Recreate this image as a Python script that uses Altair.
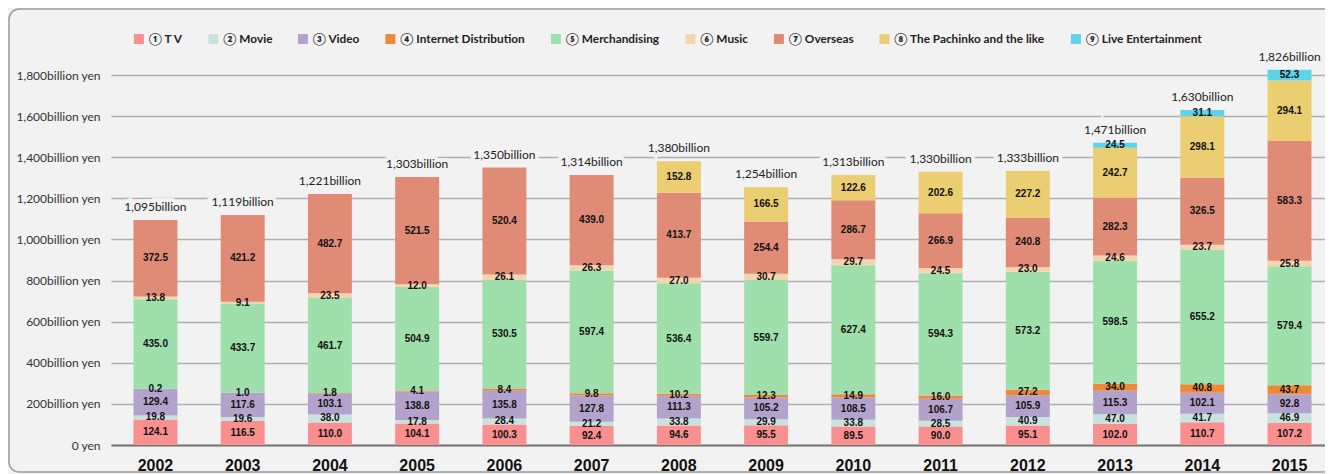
import altair as alt
import pandas as pd

years = [str(y) for y in range(2002, 2016)]
series = ["① T V", "② Movie", "③ Video", "④ Internet Distribution", "⑤ Merchandising",
          "⑥ Music", "⑦ Overseas", "⑧ The Pachinko and the like", "⑨ Live Entertainment"]
colors = ["#f98f8f", "#c8e2de", "#b3a3cc", "#ec8a3a", "#9fdfac",
          "#f5d4b0", "#e08b76", "#ebcd72", "#5fd3e8"]

tv = [124.1, 116.5, 110.0, 104.1, 100.3, 92.4, 94.6, 95.5, 89.5, 90.0, 95.1, 102.0, 110.7, 107.2]
movie = [19.8, 19.6, 38.0, 17.8, 28.4, 21.2, 33.8, 29.9, 33.8, 28.5, 40.9, 47.0, 41.7, 46.9]
video = [129.4, 117.6, 103.1, 138.8, 135.8, 127.8, 111.3, 105.2, 108.5, 106.7, 105.9, 115.3, 102.1, 92.8]
internet = [0.2, 1.0, 1.8, 4.1, 8.4, 9.8, 10.2, 12.3, 14.9, 16.0, 27.2, 34.0, 40.8, 43.7]
merch = [435.0, 433.7, 461.7, 504.9, 530.5, 597.4, 536.4, 559.7, 627.4, 594.3, 573.2, 598.5, 655.2, 579.4]
music = [13.8, 9.1, 23.5, 12.0, 26.1, 26.3, 27.0, 30.7, 29.7, 24.5, 23.0, 24.6, 23.7, 25.8]
overseas = [372.5, 421.2, 482.7, 521.5, 520.4, 439.0, 413.7, 254.4, 286.7, 266.9, 240.8, 282.3, 326.5, 583.3]
pachinko = [None, None, None, None, None, None, 152.8, 166.5, 122.6, 202.6, 227.2, 242.7, 298.1, 294.1]
live = [None, None, None, None, None, None, None, None, None, None, None, 24.5, 31.1, 52.3]

totals = [1095, 1119, 1221, 1303, 1350, 1314, 1380, 1254, 1313, 1330, 1333, 1471, 1630, 1826]
total_labels = ["1,095billion", "1,119billion", "1,221billion", "1,303billion", "1,350billion",
                "1,314billion", "1,380billion", "1,254billion", "1,313billion", "1,330billion",
                "1,333billion", "1,471billion", "1,630billion", "1,826billion"]

values = [tv, movie, video, internet, merch, music, overseas, pachinko, live]
rows = []
for si, (name, vals) in enumerate(zip(series, values)):
    for yi, v in enumerate(vals):
        if v is None:
            continue
        rows.append({"year": years[yi], "series": name, "idx": si, "value": v, "label": f"{v:.1f}"})
df = pd.DataFrame(rows)
tot = pd.DataFrame({"year": years, "total": totals, "label": total_labels})
frame_df = pd.DataFrame({"k": [0]})

BG = "#f2f2f2"
W, H = 1214, 370

xenc = alt.X("year:N", sort=years,
             scale=alt.Scale(paddingInner=0.496, paddingOuter=0.206, align=0.625),
             axis=alt.Axis(title=None, labelAngle=0, labelFont="Liberation Sans", labelFontSize=16,
                           labelFontWeight="bold", labelColor="#111", ticks=False,
                           domainColor="#777777", domainWidth=2, labelPadding=12))

yscale = alt.Scale(domain=[0, 1800], nice=False)
yaxis = alt.Axis(title=None, values=list(range(0, 1801, 200)),
                 labelExpr="datum.value == 0 ? '0 yen' : format(datum.value, ',') + 'billion yen'",
                 labelFont="Lato", labelFontSize=12, labelColor="#333333", ticks=False,
                 domain=False, labelPadding=11, gridColor="#b0b0b0", gridWidth=1.3)

base = alt.Chart(df).transform_stack(
    stack="value", groupby=["year"], sort=[alt.SortField("idx", order="ascending")], as_=["y0", "y1"]
).transform_calculate(mid="(datum.y0 + datum.y1) / 2")

bars = base.mark_bar().encode(
    x=xenc,
    y=alt.Y("y0:Q", scale=yscale, axis=yaxis),
    y2="y1:Q",
    color=alt.Color("series:N", sort=series,
                    scale=alt.Scale(domain=series, range=colors),
                    legend=alt.Legend(title=None, orient="none", legendX=22, legendY=-42,
                                      direction="horizontal", columnPadding=24.5,
                                      symbolType="square", symbolSize=100, symbolStrokeWidth=0,
                                      symbolOpacity=1, labelOffset=4,
                                      labelFont="Lato", labelFontSize=11.8, labelFontWeight="bold",
                                      labelColor="#222222", labelLimit=300)),
    order=alt.Order("idx:Q"),
)

seg_labels = base.mark_text(font="Liberation Sans", fontSize=10, fontWeight="bold",
                            color="#111111", baseline="middle").encode(
    x=alt.X("year:N", sort=years),
    y=alt.Y("mid:Q", scale=yscale),
    text="label:N",
)

tot_halo = alt.Chart(tot).mark_text(font="Lato", fontSize=12, dy=-13, baseline="middle",
                                    color=BG, stroke=BG, strokeWidth=8).encode(
    x=alt.X("year:N", sort=years),
    y=alt.Y("total:Q", scale=yscale),
    text="label:N",
)
tot_text = alt.Chart(tot).mark_text(font="Lato", fontSize=12, dy=-13, baseline="middle",
                                    color="#222222").encode(
    x=alt.X("year:N", sort=years),
    y=alt.Y("total:Q", scale=yscale),
    text="label:N",
)

frame = alt.Chart(frame_df).mark_rect(cornerRadius=10, fillOpacity=0, stroke="#9a9a9a",
                                      strokeWidth=1.5).encode(
    x=alt.value(-102), x2=alt.value(W + 40), y=alt.value(-66), y2=alt.value(H + 27)
)

chart = alt.layer(frame, bars, seg_labels, tot_halo, tot_text).properties(
    width=W, height=H,
    padding={"left": 103, "top": 67, "right": 0, "bottom": 29},
    autosize=alt.AutoSizeParams(type="none"),
    background=BG,
).configure_view(stroke="transparent")

chart.save("out.html", embed_options={"renderer": "svg", "actions": False})
